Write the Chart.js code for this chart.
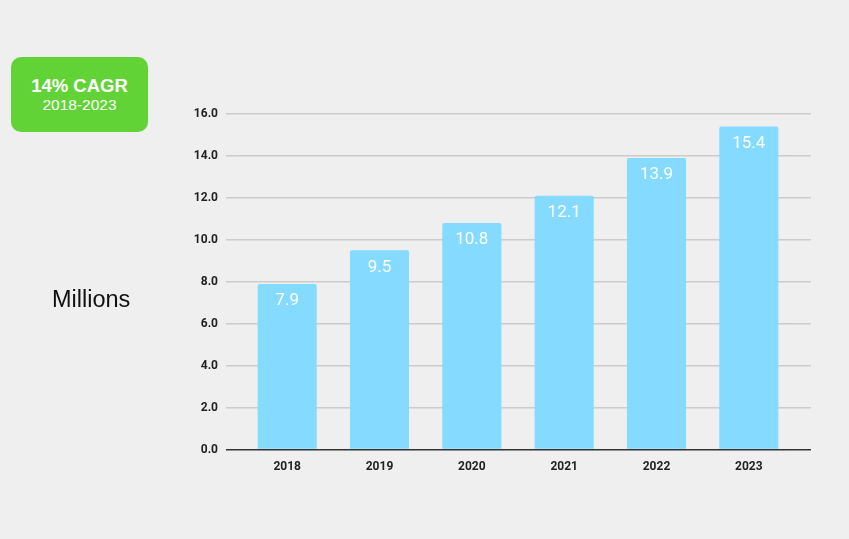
<!DOCTYPE html>
<html>
<head>
<meta charset="utf-8">
<script src="https://cdn.jsdelivr.net/npm/chart.js@4"></script>
<style>
  html, body { margin: 0; padding: 0; background: #efefef; }
  #wrap { position: relative; width: 849px; height: 539px; }
  #badge {
    position: absolute; left: 11px; top: 57px; width: 137px; height: 75px;
    background: #62d337; border-radius: 10px; color: #fff; text-align: center;
    font-family: "Liberation Sans", Arial, sans-serif;
  }
  #badge .big { font-weight: bold; font-size: 18.5px; margin-top: 18px; line-height: 21px; }
  #badge .small { font-size: 15.5px; line-height: 18px; }
  #unit {
    position: absolute; left: 52px; top: 286px; font-size: 23.5px; color: #111;
    font-family: "Liberation Sans", Arial, sans-serif;
  }
</style>
</head>
<body>
<div id="wrap">
  <canvas id="chartBar" width="849" height="539"></canvas>
  <div id="badge"><div class="big">14% CAGR</div><div class="small">2018-2023</div></div>
  <div id="unit">Millions</div>
</div>
<script>
var years = ['2018', '2019', '2020', '2021', '2022', '2023'];
var values = [7.9, 9.5, 10.8, 12.1, 13.9, 15.4];
var yTicks = [0, 2, 4, 6, 8, 10, 12, 14, 16];

/* 막대 위 값 표시 */
var valueLabels = {
    id: 'valueLabels',
    afterDatasetsDraw: function (chart) {
        var ctx = chart.ctx;
        var meta = chart.getDatasetMeta(0);
        ctx.save();
        ctx.fillStyle = '#ffffff';
        ctx.font = '17px Roboto';
        ctx.textAlign = 'center';
        ctx.textBaseline = 'middle';
        meta.data.forEach(function (bar, i) {
            ctx.fillText(values[i].toFixed(1), bar.x, bar.y + 17);
        });
        ctx.restore();
    }
};

function fixedTicks(s) {
    s.ticks = yTicks.map(function (v) { return { value: v }; });
}
// 0 선은 진하게
function gridColor(c) {
    return c.tick && c.tick.value === 0 ? '#333333' : '#cccccc';
}

var chartBar = document.getElementById('chartBar').getContext('2d');
new Chart(chartBar, {
    type: 'bar',
    data: {
        labels: years,
        datasets: [{
            data: values,
            backgroundColor: '#84dbff',
            barPercentage: 0.64,
            categoryPercentage: 1,
            borderRadius: { topLeft: 2, topRight: 2 },
            borderSkipped: 'bottom'
        }]
    },
    options: {
        responsive: false,
        animation: false,
        layout: { padding: { top: 114, right: 38, bottom: 55, left: 0 } },
        plugins: { legend: { display: false }, tooltip: { enabled: false } },
        scales: {
            x: {
                grid: { display: false, drawTicks: false },
                border: { display: false },
                ticks: { color: '#222', font: { family: 'Roboto', size: 12, weight: 'bold' }, padding: 10 }
            },
            y: {
                min: 0, max: 16,
                afterFit: function (s) { s.width = 241; },
                afterBuildTicks: fixedTicks,
                grid: { color: gridColor, lineWidth: 1.5, drawTicks: true, tickLength: 15 },
                border: { display: false },
                ticks: {
                    color: '#222', padding: 8,
                    font: { family: 'Roboto', size: 12, weight: 'bold' },
                    callback: function (v) { return v.toFixed(1); }
                }
            },
            y2: {
                position: 'right',
                min: 0, max: 16,
                afterFit: function (s) { s.width = 16; },
                afterBuildTicks: fixedTicks,
                grid: { color: gridColor, lineWidth: 1.5, drawOnChartArea: false, drawTicks: true, tickLength: 16 },
                border: { display: false },
                ticks: { display: false }
            }
        }
    },
    plugins: [valueLabels]
});
</script>
</body>
</html>
